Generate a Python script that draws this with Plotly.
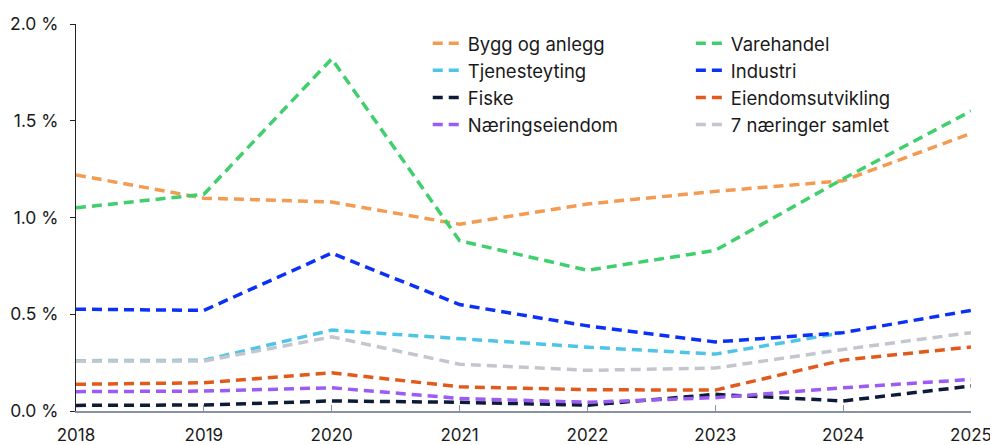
import plotly.graph_objects as go

years = [2018, 2019, 2020, 2021, 2022, 2023, 2024, 2025]

bygg_og_anlegg = [1.22, 1.10, 1.08, 0.965, 1.07, 1.135, 1.19, 1.435]
varehandel = [1.05, 1.12, 1.82, 0.88, 0.727, 0.83, 1.20, 1.55]
tjenesteyting = [0.26, 0.262, 0.418, 0.376, 0.33, 0.294, 0.405, None]
industri = [0.526, 0.52, 0.816, 0.55, 0.44, 0.357, 0.405, 0.52]
fiske = [0.029, 0.031, 0.052, 0.045, 0.03, 0.086, 0.052, 0.129]
eiendomsutvikling = [0.138, 0.146, 0.197, 0.125, 0.11, 0.108, 0.263, 0.331]
naeringseiendom = [0.10, 0.103, 0.12, 0.065, 0.045, 0.069, 0.12, 0.163]
samlet = [0.258, 0.258, 0.383, 0.242, 0.21, 0.222, 0.318, 0.405]

series = [
    ("Bygg og anlegg", bygg_og_anlegg, "#F49B52", "legend"),
    ("Varehandel", varehandel, "#3FCF6D", "legend2"),
    ("Tjenesteyting", tjenesteyting, "#4EC5E6", "legend"),
    ("Industri", industri, "#0B30F6", "legend2"),
    ("Fiske", fiske, "#0D1B36", "legend"),
    ("Eiendomsutvikling", eiendomsutvikling, "#E15A1C", "legend2"),
    ("Næringseiendom", naeringseiendom, "#9B5BF4", "legend"),
    ("7 næringer samlet", samlet, "#C3C7CD", "legend2"),
]

fig = go.Figure()
for name, vals, color, leg in series:
    fig.add_trace(go.Scatter(
        x=years, y=vals, name=name, mode="lines",
        line=dict(color=color, width=3.5, dash="10px,6px"),
        legend=leg, connectgaps=False,
    ))

font_family = "Inter, 'Open Sans', sans-serif"

fig.update_layout(
    width=990, height=437,
    margin=dict(l=68, r=27, t=16, b=34),
    paper_bgcolor="white", plot_bgcolor="white",
    font=dict(family=font_family, size=17, color="#1a1a1a"),
    showlegend=True,
    legend=dict(x=0.393, y=0.998, xanchor="left", yanchor="top",
                bgcolor="rgba(0,0,0,0)", font=dict(size=18.5), tracegroupgap=0,
                itemwidth=30),
    legend2=dict(x=0.687, y=0.998, xanchor="left", yanchor="top",
                 bgcolor="rgba(0,0,0,0)", font=dict(size=18.5), tracegroupgap=0,
                 itemwidth=30),
    xaxis=dict(
        range=[2018, 2025], tickmode="array", tickvals=years,
        ticktext=[str(y) for y in years],
        showgrid=False, zeroline=False, automargin=False,
        showline=True, linecolor="#8A93A5", linewidth=1.5,
        ticks="inside", ticklen=6, tickcolor="#8A93A5", tickwidth=1,
        tickfont=dict(size=17), ticklabeloverflow="allow", ticklabelstandoff=8,
    ),
    yaxis=dict(
        range=[0, 2.0], tickvals=[0, 0.5, 1.0, 1.5, 2.0],
        ticktext=["0.0 %", "0.5 %", "1.0 %", "1.5 %", "2.0 %"],
        showgrid=False, zeroline=False, automargin=False,
        showline=True, linecolor="#222222", linewidth=1,
        ticks="outside", ticklen=5, tickcolor="#222222",
        tickfont=dict(size=17.5), ticklabelstandoff=8,
    ),
)

fig.write_html("out.html")
